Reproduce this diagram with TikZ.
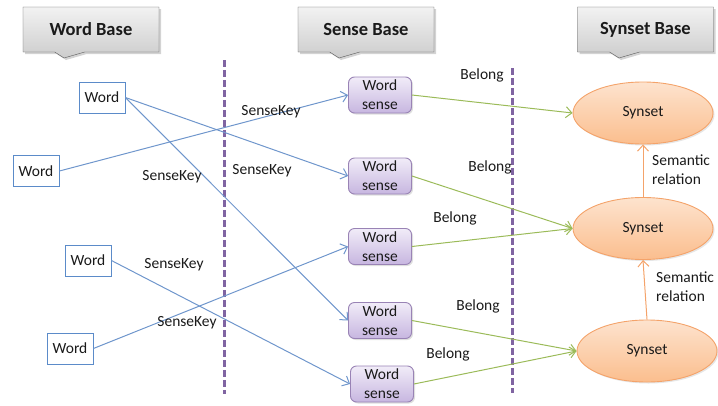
\documentclass[tikz,border=0pt]{standalone}
\usepackage{fontspec}
\setmainfont{Carlito}
\usetikzlibrary{arrows.meta,shapes.geometric,shapes.callouts,shadows}

\definecolor{wordblue}{HTML}{5B8BC9}
\definecolor{keyblue}{HTML}{6F96CC}
\definecolor{senseline}{HTML}{8064A2}
\definecolor{sensetop}{HTML}{F1ECF8}
\definecolor{sensebot}{HTML}{C7B6E0}
\definecolor{belonggreen}{HTML}{9BBB59}
\definecolor{synline}{HTML}{F4A36A}
\definecolor{syntop}{HTML}{FDE3CE}
\definecolor{synbot}{HTML}{FBBE8E}
\definecolor{txt}{HTML}{1A1A1A}

\begin{document}
\begin{tikzpicture}[x=1pt,y=-1pt,
  basebox/.style={rectangle callout, draw=black!65, top color=black!5, bottom color=black!20,
    minimum width=136pt, minimum height=45pt, inner sep=0pt, callout pointer width=30pt,
    font=\fontsize{18.5}{20}\selectfont\bfseries, text=txt,
    drop shadow={opacity=0.35, shadow xshift=2pt, shadow yshift=-2pt}},
  wordbox/.style={draw=wordblue, fill=white, line width=0.9pt, minimum width=46pt,
    minimum height=31pt, inner sep=0pt, font=\fontsize{15.5}{17}\selectfont, text=txt},
  sensebox/.style={draw=senseline!80, rounded corners=6pt, top color=sensetop, bottom color=sensebot,
    line width=0.9pt, minimum width=63pt, minimum height=36pt, inner sep=0pt, align=center,
    font=\fontsize{15.5}{19}\selectfont, text=txt,
    drop shadow={opacity=0.25, shadow xshift=1.5pt, shadow yshift=-1.5pt}},
  synbox/.style={ellipse, draw=synline, top color=syntop, bottom color=synbot, line width=0.9pt,
    minimum width=140pt, minimum height=62pt, inner sep=0pt,
    font=\fontsize{15.5}{17}\selectfont, text=txt,
    drop shadow={opacity=0.2, shadow xshift=1.5pt, shadow yshift=-1.5pt}},
  lbl/.style={font=\fontsize{15.5}{19}\selectfont, text=txt, inner sep=0pt},
  key/.style={draw=keyblue, line width=1pt, -{Straight Barb[length=6pt,width=11pt]}},
  belong/.style={draw=belonggreen, line width=1pt, -{Straight Barb[length=6pt,width=11pt]}},
  semrel/.style={draw=synline, line width=1pt, -{Straight Barb[length=6pt,width=11pt]}},
  basesep/.style={senseline, line width=3pt, dash pattern=on 7pt off 3pt}]

\useasboundingbox (0,0) rectangle (718,405);

%% titres
\node[basebox, callout absolute pointer={(64,58)}] (wbase) at (91,29.5) {Word Base};
\node[basebox, callout absolute pointer={(339,58)}] (sbase) at (366,29.5) {Sense Base};
\node[basebox, callout absolute pointer={(619,58)}] (ybase) at (645.5,29.5) {Synset Base};

%% frontieres
\coordinate (d1a) at (224,60);
\coordinate (d1b) at (224,394);
\coordinate (d2a) at (512,68);
\coordinate (d2b) at (512,393);
\draw[basesep] (d1a) -- (d1b);
\draw[basesep] (d2a) -- (d2b);

%% mots
\node[wordbox] (w1) at (102,97.5) {Word};
\node[wordbox] (w2) at (36,171) {Word};
\node[wordbox] (w3) at (88,260.5) {Word};
\node[wordbox] (w4) at (70,348.5) {Word};

%% sens
\node[sensebox] (s1) at (380,95) {Word\\sense};
\node[sensebox] (s2) at (380,176) {Word\\sense};
\node[sensebox] (s3) at (380,246.5) {Word\\sense};
\node[sensebox] (s4) at (380,320.5) {Word\\sense};
\node[sensebox] (s5) at (382,384) {Word\\sense};

%% synsets
\node[synbox] (y1) at (643,113) {Synset};
\node[synbox] (y2) at (643,228.5) {Synset};
\node[synbox] (y3) at (647,351) {Synset};

%% SenseKey
\draw[key] (w2.east) -- (s1.west);
\draw[key] (w1.east) -- (s2.west);
\draw[key] (w1.east) -- (s4.west);
\draw[key] (w4.east) -- (s3.west);
\draw[key] (w3.east) -- (s5.west);
\node[lbl] (k1) at (271,112) {SenseKey};
\node[lbl] (k2) at (262,171) {SenseKey};
\node[lbl] (k3) at (172,177) {SenseKey};
\node[lbl] (k4) at (174,265) {SenseKey};
\node[lbl] (k5) at (187,323) {SenseKey};

%% Belong
\draw[belong] (s1.east) -- (y1.west);
\draw[belong] (s2.east) -- (y2.west);
\draw[belong] (s3.east) -- (y2.west);
\draw[belong] (s4.east) -- (y3.west);
\draw[belong] (s5.east) -- (y3.west);
\node[lbl] (b1) at (482,75) {Belong};
\node[lbl] (b2) at (490,167) {Belong};
\node[lbl] (b3) at (455,218) {Belong};
\node[lbl] (b4) at (478,306) {Belong};
\node[lbl] (b5) at (448,354) {Belong};

%% relations semantiques
\draw[semrel] (y2.north) -- (y1.south);
\draw[semrel] (y3.north) -- (y2.south);
\node[lbl, anchor=west, align=left] (r1) at (652,170) {Semantic\\relation};
\node[lbl, anchor=west, align=left] (r2) at (656,287) {Semantic\\relation};

\end{tikzpicture}
\end{document}
